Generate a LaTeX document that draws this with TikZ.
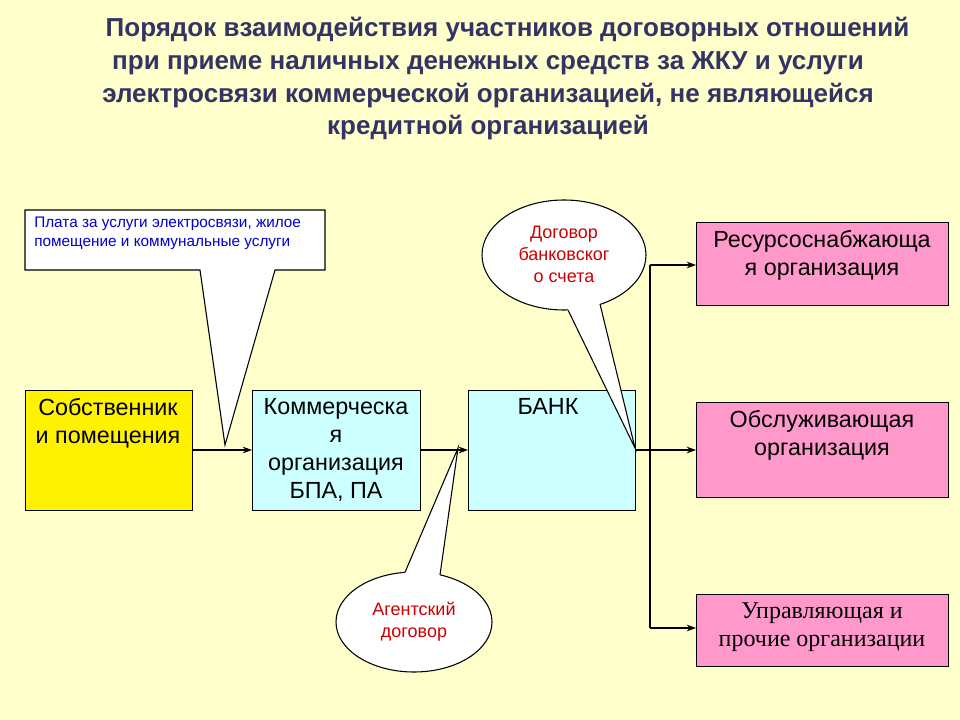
\documentclass[tikz,border=0pt]{standalone}
\usepackage{fontspec}
\setmainfont{Liberation Sans}
\newfontfamily\serifrm{Liberation Serif}
\definecolor{bg}{HTML}{FFFFCC}
\definecolor{ttl}{HTML}{333366}
\definecolor{cy}{HTML}{CCFFFF}
\definecolor{pk}{HTML}{FF99CC}
\definecolor{rd}{HTML}{CC0000}
\definecolor{bl}{HTML}{0000CC}
\usetikzlibrary{arrows.meta}
\begin{document}
\begin{tikzpicture}[x=0.75pt,y=-0.75pt,
  box/.style={draw=black,line width=0.8pt,anchor=north west,align=center,inner sep=0pt},
  bt/.style={anchor=north,align=center,font=\fontsize{17.5}{21}\selectfont,inner sep=0pt},
  arr/.style={-{Stealth[length=7pt,width=5pt]},line width=0.8pt},
  ln/.style={line width=0.8pt}]
\useasboundingbox[fill=bg] (0,0) rectangle (960,720);
\node[font=\bfseries\fontsize{19.5}{24.5}\selectfont,text=ttl,align=center] (t) at (488,79)
 {\hspace*{1.5em}Порядок взаимодействия участников договорных отношений\\
 при приеме наличных денежных средств за ЖКУ и услуги\\
 электросвязи коммерческой организацией, не являющейся\\
 кредитной организацией};
% callout rectangle
\draw[fill=white,ln] (25,210) -- (325,210) -- (325,270) -- (275,270) -- (225,445) -- (200,270) -- (25,270) -- cycle;
\node[anchor=north west,align=left,text=bl,font=\fontsize{11.5}{14}\selectfont,inner sep=0pt] (c1) at (34,217)
 {Плата за услуги электросвязи, жилое\\помещение и коммунальные услуги};
% boxes
\node[box,fill=yellow,minimum width=167*0.75pt,minimum height=120*0.75pt] (s) at (25,390) {};
\node[bt] (st) at (108,398) {Собственник\\и помещения};
\node[box,fill=cy,minimum width=168*0.75pt,minimum height=120*0.75pt] (k) at (252,390) {};
\node[bt] (kt) at (336,398) {Коммерческа\\я\\организация\\БПА, ПА};
\node[box,fill=cy,minimum width=167*0.75pt,minimum height=120*0.75pt] (b) at (468,390) {};
\node[bt] (btx) at (548,398) {БАНК};
\node[box,fill=pk,minimum width=252*0.75pt,minimum height=83*0.75pt] (r) at (696,222) {};
\node[bt] (rt) at (822,230) {Ресурсоснабжающа\\я организация};
\node[box,fill=pk,minimum width=252*0.75pt,minimum height=95*0.75pt] (o) at (696,402) {};
\node[bt] (ot) at (822,410) {Обслуживающая\\организация};
\node[box,fill=pk,minimum width=252*0.75pt,minimum height=72*0.75pt] (u) at (696,594) {};
\node[bt,font=\serifrm\fontsize{18}{21}\selectfont] (ut) at (822,603) {Управляющая и\\прочие организации};
% ellipse 1
\draw[fill=white,ln] (564,255) ellipse [x radius=82,y radius=55];
\fill[white] (568,300) -- (568,310) -- (635,448) -- (600,304) -- (600,295) -- cycle;
\draw[ln] (568,310) -- (635,448) -- (600,304);
\node[align=center,text=rd,font=\fontsize{13.5}{16.5}\selectfont] (e1) at (564,254) {Договор\\банковског\\о счета};
% ellipse 2
\draw[fill=white,ln] (414,622) ellipse [x radius=78,y radius=50];
\fill[white] (405,580) -- (405,572.3) -- (458,448) -- (440,574.9) -- (440,582) -- cycle;
\draw[ln] (405,572.3) -- (458,448) -- (440,574.9);
\node[align=center,text=rd,font=\fontsize{13.5}{16.5}\selectfont] (e2) at (414,622) {Агентский\\договор};
% connectors
\draw[arr] (s.east |- 0,450) -- (k.west |- 0,450);
\draw[arr] (k.east |- 0,450) -- (b.west |- 0,450);
\draw[arr] (b.east |- 0,450) -- (o.west |- 0,450);
\draw[ln] (650,265) -- (650,628);
\draw[arr] (650,265) -- (r.west |- 0,265);
\draw[arr] (650,628) -- (u.west |- 0,628);
\end{tikzpicture}
\end{document}
